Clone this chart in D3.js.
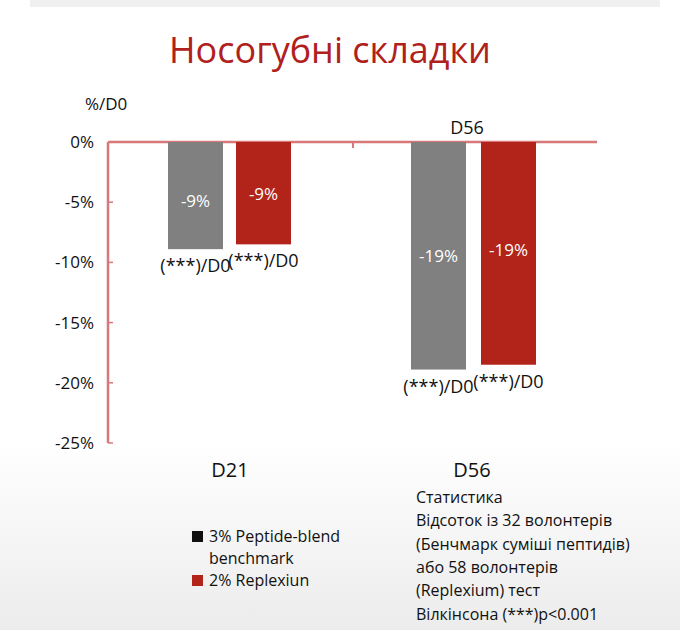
<!DOCTYPE html>
<html><head><meta charset="utf-8">
<script src="https://cdn.jsdelivr.net/npm/d3@7"></script>
<style>body{margin:0;background:#fff}svg{display:block;font-family:"Open Sans",sans-serif}</style>
</head><body><svg id="c" width="680" height="630"></svg>
<script>
const categories = ["D21", "D56"];
const seriesNames = ["3% Peptide-blend benchmark", "2% Replexiun"];
const benchmarkValues = [-8.9, -18.9];
const replexiumValues = [-8.5, -18.5];
const valueLabels = [["-9%", "-9%"], ["-19%", "-19%"]];
const yTicks = [0, -5, -10, -15, -20, -25];
const statsLines = ["Статистика", "Відсоток із 32 волонтерів", "(Бенчмарк суміші пептидів)", "або 58 волонтерів", "(Replexium) тест", "Вілкінсона (***)p<0.001"];

const svg = d3.select("#c");
const defs = svg.append("defs");
const g1 = defs.append("linearGradient").attr("id","bg").attr("x1",0).attr("x2",0).attr("y1",0).attr("y2",1);
g1.append("stop").attr("offset","0").attr("stop-color","#ffffff");
g1.append("stop").attr("offset","0.7").attr("stop-color","#ffffff");
g1.append("stop").attr("offset","1").attr("stop-color","#ececec");
svg.append("rect").attr("width",680).attr("height",630).attr("fill","url(#bg)");
svg.append("rect").attr("x",30).attr("y",0).attr("width",630).attr("height",7).attr("fill","#f0f0f0");

const y = d3.scaleLinear().domain([0,-25]).range([142,443]);
const x0 = d3.scaleBand().domain(categories).range([108,597]).paddingInner(0.0).paddingOuter(0);
const colors = ["#808080","#b22419"];

svg.append("text").attr("x",330).attr("y",63).attr("text-anchor","middle").attr("font-size",36).attr("fill","#b0201c").text("Носогубні складки");
svg.append("text").attr("x",85).attr("y",110).attr("font-size",17).attr("fill","#111").text("%/D0");

// axes
const axisColor = "#d87878";
svg.append("line").attr("x1",108).attr("x2",108).attr("y1",y(0)).attr("y2",y(-25)).attr("stroke",axisColor).attr("stroke-width",2.5);
svg.append("line").attr("x1",108).attr("x2",597).attr("y1",y(0)).attr("y2",y(0)).attr("stroke",axisColor).attr("stroke-width",2.5);
yTicks.forEach(t=>{
  svg.append("line").attr("x1",108).attr("x2",113).attr("y1",y(t)).attr("y2",y(t)).attr("stroke",axisColor).attr("stroke-width",1.5);
  svg.append("text").attr("x",94).attr("y",y(t)+6).attr("text-anchor","end").attr("font-size",17).attr("fill","#111").text(t+"%");
});
svg.append("line").attr("x1",353).attr("x2",353).attr("y1",y(0)).attr("y2",y(0)+6).attr("stroke",axisColor).attr("stroke-width",2);

const series = [benchmarkValues, replexiumValues];
const offsets = [[60,128],[58,128]];
categories.forEach((c,i)=>{
  series.forEach((vals,s)=>{
    const bx = (i===0? 168 : 411) + s*(i===0?68:70);
    const x = bx; // band-derived start below
    const xs = x0(c) + (bx - x0(c));
    svg.append("rect").attr("x",xs).attr("y",y(0)).attr("width",55).attr("height",y(vals[i])-y(0)).attr("fill",colors[s]);
    const lblY = i===0 ? (s===0?207:200) : (s===0?262:256);
    svg.append("text").attr("x",xs+27.5).attr("y",lblY).attr("text-anchor","middle").attr("font-size",17).attr("fill","#fff").text(valueLabels[i][s]);
    svg.append("text").attr("x",xs+27.5).attr("y",y(vals[i])+23).attr("text-anchor","middle").attr("font-size",18).attr("fill","#111").text("(***)/D0");
  });
  svg.append("text").attr("x",i===0?230:472).attr("y",477).attr("text-anchor","middle").attr("font-size",20).attr("fill","#111").text(c);
});
svg.append("text").attr("x",467).attr("y",134).attr("text-anchor","middle").attr("font-size",18).attr("fill","#111").text("D56");

// legend
const legY = [537, 581];
svg.append("rect").attr("x",192).attr("y",legY[0]-6).attr("width",11).attr("height",11).attr("fill","#111");
svg.append("text").attr("x",209).attr("y",legY[0]+5).attr("font-size",16).attr("fill","#111").text("3% Peptide-blend");
svg.append("text").attr("x",209).attr("y",legY[0]+27).attr("font-size",16).attr("fill","#111").text("benchmark");
svg.append("rect").attr("x",192).attr("y",legY[1]-6).attr("width",11).attr("height",11).attr("fill",colors[1]);
svg.append("text").attr("x",209).attr("y",legY[1]+5).attr("font-size",16).attr("fill","#111").text(seriesNames[1]);

statsLines.forEach((l,i)=>{
  svg.append("text").attr("x",416).attr("y",503+i*23.3).attr("font-size",16).attr("fill","#111").text(l);
});
</script></body></html>
